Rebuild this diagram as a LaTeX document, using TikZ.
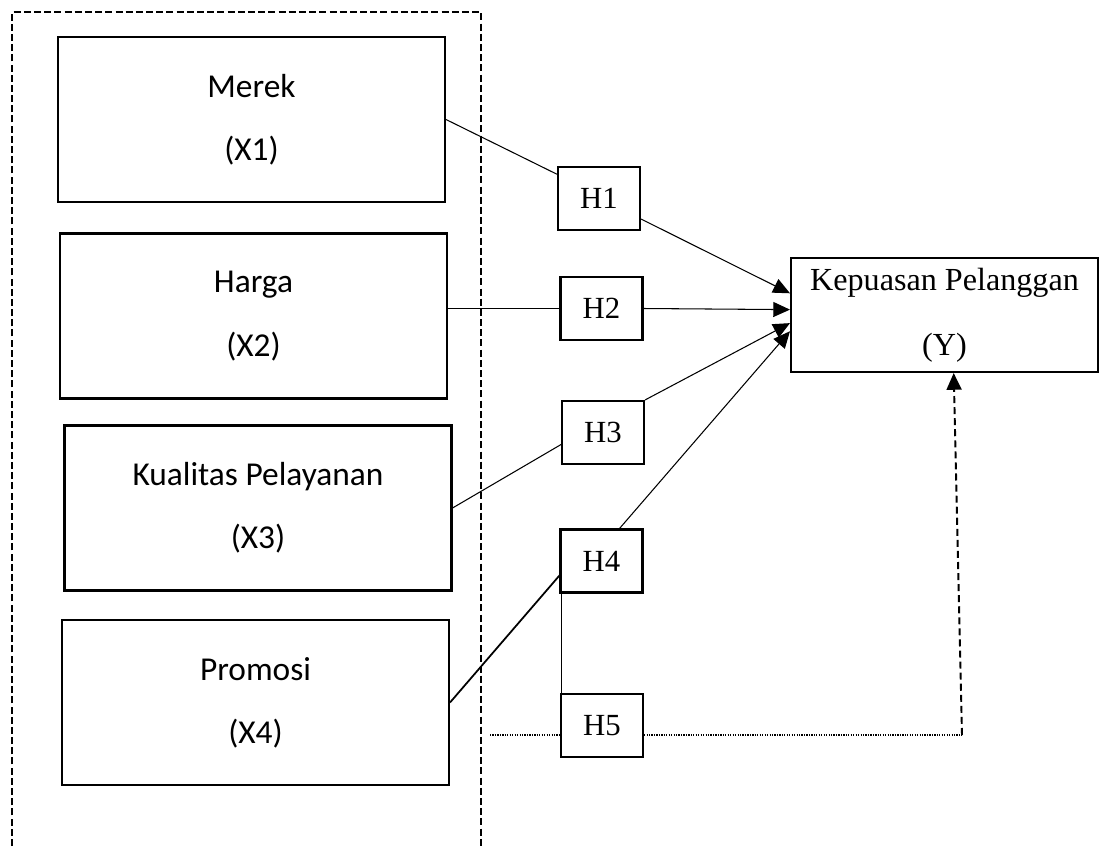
\documentclass[tikz,border=0pt]{standalone}
\usepackage{fontspec}
\setmainfont{Liberation Serif}
\newfontfamily\calibri{Carlito}
\usetikzlibrary{arrows.meta, calc}

\begin{document}
\begin{tikzpicture}[x=0.02cm, y=-0.02cm,
    vbox/.style={draw, line width=1.2pt, minimum width=7.74cm, minimum height=3.3cm, align=center, font=\calibri\fontsize{19}{22}\selectfont},
    hbox/.style={draw, line width=1.2pt, minimum width=1.64cm, minimum height=1.26cm, font=\fontsize{17.5}{20}\selectfont},
    ybox/.style={draw, line width=1.2pt, minimum width=6.14cm, minimum height=2.28cm, align=center, font=\fontsize{18.3}{22}\selectfont},
    link/.style={line width=0.6pt},
    arr/.style={line width=0.6pt, -{Triangle[length=9.5pt, width=8.5pt]}},
    dotline/.style={line width=0.7pt, dash pattern=on 0.7pt off 0.7pt},
    dashline/.style={line width=1.1pt, dash pattern=on 4pt off 2.3pt, -{Triangle[length=9.5pt, width=8.5pt]}},
    frame/.style={line width=1.1pt, dash pattern=on 4pt off 1.8pt},
  ]
    \useasboundingbox (0,0) rectangle (1101,846);

    % kotak variabel bebas
    \draw[frame] (12,846) -- (12,12) -- (481,12) -- (481,846);
    \node[vbox] (merek) at (251.5,119.5) {Merek\\[14pt](X1)};
    \node[vbox] (harga) at (253.5,316) {Harga\\[14pt](X2)};
    \node[vbox] (kualitas) at (258,508) {Kualitas Pelayanan\\[14pt](X3)};
    \node[vbox] (promosi) at (255.5,702.5) {Promosi\\[14pt](X4)};

    % hipotesis
    \node[hbox] (h1) at (599,198.5) {H1};
    \node[hbox] (h2) at (601.5,308.5) {H2};
    \node[hbox] (h3) at (603,432.5) {H3};
    \node[hbox] (h4) at (601.5,561) {H4};
    \node[hbox] (h5) at (602,725.5) {H5};

    \node[ybox] (kp) at (944.5,315) {Kepuasan Pelanggan\\[15pt](Y)};

    \draw[link] (merek.east) -- (h1.150);
    \draw[arr] (h1.-26) -- (kp.172.6);
    \draw[link] (harga.east |- h2.west) -- (h2.west);
    \draw[arr] (h2.east) -- (kp.178.5);
    \draw[link] (kualitas.east) -- (h3.196);
    \draw[arr] (h3.north east) -- (kp.-177);
    \draw[line width=1pt] (promosi.east) -- (h4.199);
    \draw[arr] (h4.61) -- (kp.186);
    \draw[link] (h4.219) -- (h4.219 |- h5.north);

    % moderasi
    \coordinate (dstart) at (490,735);
    \coordinate (dcorner) at (962,735);
    \draw[dotline] (dstart) -- (dstart -| h5.west);
    \draw[dotline] (h5.east |- dcorner) -- (dcorner);
    \draw[dashline] (dcorner) -- (kp.-81.5);
\end{tikzpicture}
\end{document}
